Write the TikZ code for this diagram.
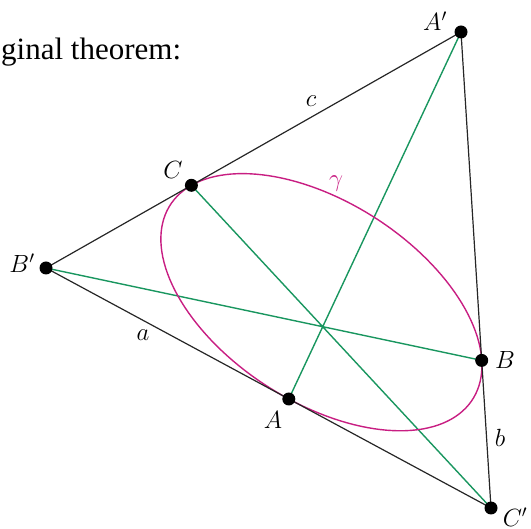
\documentclass[tikz,border=0pt]{standalone}
\usepackage{fontspec}
\usepackage{tikz}
\newfontfamily\captionserif{Liberation Serif}
\definecolor{cevgreen}{RGB}{25,150,95}
\definecolor{conicpink}{RGB}{200,30,130}

\begin{document}
\begin{tikzpicture}[
  x=1pt, y=-1pt,
  font=\fontsize{25}{30}\selectfont,
  side/.style={line width=1.2pt, black!85},
  cevian/.style={line width=1.4pt, cevgreen},
  conic/.style={line width=1.4pt, conicpink},
  dot/.style={circle, fill=black, inner sep=0pt, minimum size=13pt},
  lab/.style={inner sep=0pt}
]
  \useasboundingbox (0,0) rectangle (531,529);
  % triangle and contact points
  \coordinate (Ap) at (461,32);
  \coordinate (Bp) at (46,268);
  \coordinate (Cp) at (491,508);
  \coordinate (A) at (288.8,399);
  \coordinate (B) at (481.7,360.4);
  \coordinate (C) at (191.4,185.3);

  \draw[cevian] (Ap) -- (A) (Bp) -- (B) (Cp) -- (C);
  \draw[conic] plot[domain=0:360, samples=145]
    ({321.4-130*cos(\x)+94.21*sin(\x)}, {302.2-116.9*cos(\x)-53.57*sin(\x)}) -- cycle;
  \draw[side] (Ap) -- (Bp) -- (Cp) -- cycle;
  \foreach \p in {Ap,Bp,Cp,A,B,C}
    \node[dot] (d\p) at (\p) {};

  \node[lab] (lAp) at (435,21) {$A'$};
  \node[lab] (lBp) at (22,263) {$B'$};
  \node[lab] (lCp) at (515,517) {$C'$};
  \node[lab] (lA) at (273,420) {$A$};
  \node[lab] (lB) at (505,360) {$B$};
  \node[lab] (lC) at (173,170) {$C$};
  \node[lab] (la) at (143,335) {$a$};
  \node[lab] (lb) at (500,438) {$b$};
  \node[lab] (lc) at (311,101) {$c$};
  \node[lab, text=conicpink] (lgamma) at (336,184) {$\gamma$};

  \node[lab, anchor=base west, font=\captionserif\fontsize{31}{36}\selectfont] (title) at (1,60) {ginal theorem:};
\end{tikzpicture}
\end{document}
